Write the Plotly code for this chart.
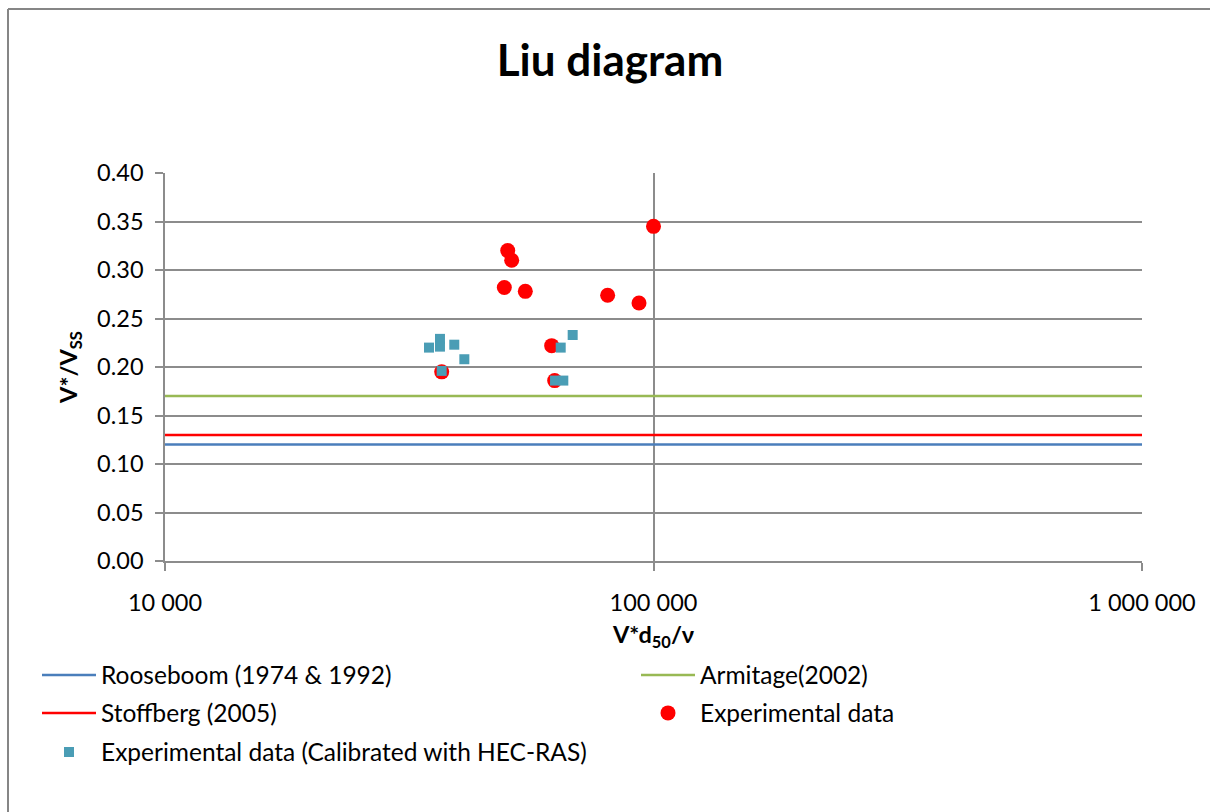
import plotly.graph_objects as go

# Data
exp_x = [50300, 51250, 49500, 54650, 80560, 93400, 100000, 61880, 62760, 36850]
exp_y = [0.320, 0.310, 0.282, 0.278, 0.274, 0.266, 0.345, 0.222, 0.186, 0.195]

cal_x = [34710, 36550, 36550, 39100, 41000, 36850, 64570, 68320, 62870, 65370]
cal_y = [0.220, 0.229, 0.221, 0.223, 0.208, 0.196, 0.220, 0.233, 0.186, 0.186]

line_x = [10000, 1000000]
rooseboom = [0.12, 0.12]
armitage = [0.17, 0.17]
stoffberg = [0.13, 0.13]

x_tickvals = [10000, 100000, 1000000]
x_ticktext = ["10 000", "100 000", "1 000 000"]
y_tickvals = [0.0, 0.05, 0.10, 0.15, 0.20, 0.25, 0.30, 0.35, 0.40]

FONT = "Lato"
TICK = 23.5
W, H = 1210, 812
ML, MR, MT, MB = 165, 68, 173, 251
PW, PH = W - ML - MR, H - MT - MB

def px_x(px):
    return (px - ML) / PW

def px_y(py):
    return (H - MB - py) / PH

fig = go.Figure()

fig.add_trace(go.Scatter(x=line_x, y=rooseboom, mode="lines", name="Rooseboom (1974 & 1992)",
                         line=dict(color="#4A7EBB", width=2.5), legend="legend", showlegend=True))
fig.add_trace(go.Scatter(x=line_x, y=armitage, mode="lines", name="Armitage(2002)",
                         line=dict(color="#98B954", width=2.5), legend="legend2", showlegend=True))
fig.add_trace(go.Scatter(x=line_x, y=stoffberg, mode="lines", name="Stoffberg (2005)",
                         line=dict(color="#FF0000", width=2.5), legend="legend3", showlegend=True))
fig.add_trace(go.Scatter(x=exp_x, y=exp_y, mode="markers", name="Experimental data",
                         marker=dict(color="#FF0000", size=15, symbol="circle"), legend="legend4",
                         showlegend=True))
fig.add_trace(go.Scatter(x=cal_x, y=cal_y, mode="markers", name="Experimental data (Calibrated with HEC-RAS)",
                         marker=dict(color="#4A9DB5", size=10, symbol="square"), legend="legend5",
                         showlegend=True))

def leg(px, py):
    return dict(orientation="h", xanchor="left", yanchor="middle", x=px_x(px), y=px_y(py),
                itemwidth=54, bgcolor="rgba(0,0,0,0)", visible=True,
                font=dict(family=FONT, size=24.5, color="#000000"))

fig.update_layout(
    width=W, height=H,
    margin=dict(l=ML, r=MR, t=MT, b=MB),
    paper_bgcolor="white", plot_bgcolor="white",
    showlegend=True,
    title=dict(text="<b>Liu diagram</b>", x=610 / W, xanchor="center", y=1 - 61 / H, yanchor="middle",
               font=dict(family=FONT, size=44, color="#000000")),
    xaxis=dict(type="log", range=[4, 6], tickvals=x_tickvals, ticktext=x_ticktext,
               showgrid=True, gridcolor="#8C8C8C", gridwidth=1.5,
               showline=True, linecolor="#8C8C8C", linewidth=1.5,
               ticks="outside", ticklen=8, tickcolor="#8C8C8C", tickwidth=1.5,
               ticklabelstandoff=12,
               tickfont=dict(family=FONT, size=TICK, color="#000000"),
               title=dict(text="<b>V*d<sub>50</sub>/ν</b>", standoff=12,
                          font=dict(family=FONT, size=TICK, color="#000000")),
               zeroline=False),
    yaxis=dict(range=[0, 0.4], tickvals=y_tickvals, tickformat=".2f",
               showgrid=True, gridcolor="#8C8C8C", gridwidth=1.5,
               showline=True, linecolor="#8C8C8C", linewidth=1.5,
               ticks="outside", ticklen=8, tickcolor="#8C8C8C", tickwidth=1.5,
               ticklabelstandoff=7,
               tickfont=dict(family=FONT, size=TICK, color="#000000"),
               title=dict(text="<b>V*/V<sub>SS</sub></b>", standoff=13,
                          font=dict(family=FONT, size=TICK, color="#000000")),
               zeroline=False),
    legend=leg(37, 675),
    legend2=leg(636, 675),
    legend3=leg(37, 713),
    legend4=leg(636, 713),
    legend5=leg(37, 752),
)

# outer chart border (left and top edges)
fig.add_shape(type="line", xref="paper", yref="paper",
              x0=px_x(8), x1=px_x(W), y0=px_y(9), y1=px_y(9),
              line=dict(color="#868686", width=2))
fig.add_shape(type="line", xref="paper", yref="paper",
              x0=px_x(8), x1=px_x(8), y0=px_y(H), y1=px_y(9),
              line=dict(color="#868686", width=2))

fig.write_html("out.html")
